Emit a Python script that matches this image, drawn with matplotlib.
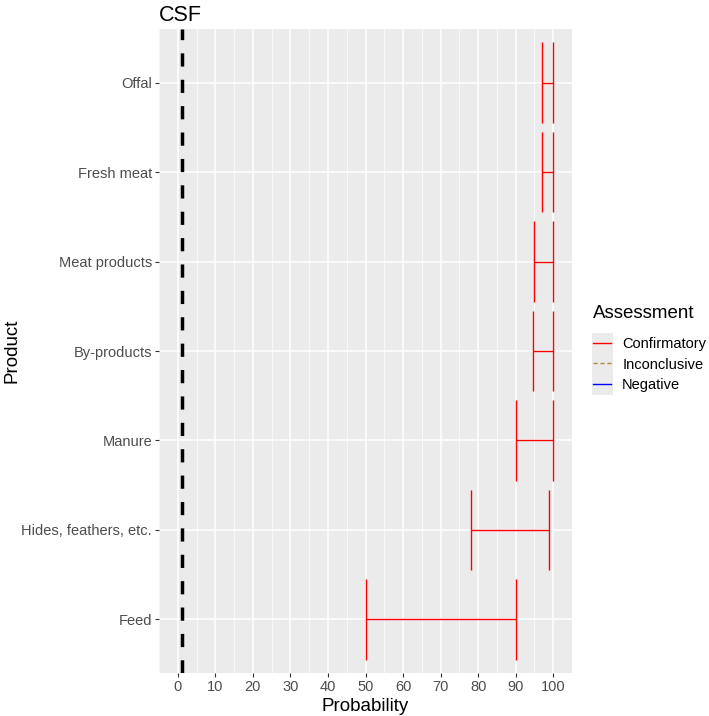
import numpy as np
import matplotlib.pyplot as plt
from matplotlib.lines import Line2D
from matplotlib.patches import Rectangle
from matplotlib.ticker import MultipleLocator

plt.rcParams['font.family'] = ['Liberation Sans', 'DejaVu Sans']
plt.rcParams['lines.scale_dashes'] = False

# data (bottom to top)
products = ["Feed", "Hides, feathers, etc.", "Manure", "By-products",
            "Meat products", "Fresh meat", "Offal"]
lower = [50, 78, 90, 94.5, 95, 97, 97]
upper = [90, 99, 100, 100, 100, 100, 100]
threshold = 1
xticks = list(range(0, 101, 10))

legend_labels = ["Confirmatory", "Inconclusive", "Negative"]
legend_colors = ["#FF0000", "#B08A3E", "#0000FF"]
legend_styles = ["-", (0, (3, 2)), "-"]

fig = plt.figure(figsize=(7.09, 7.16), dpi=100)
ax = fig.add_axes([159/709, 43/716, 413/709, 644/716])
ax.set_facecolor("#EBEBEB")

y = np.arange(1, len(products) + 1)
ax.hlines(y, lower, upper, color="#FF0000", lw=1.0, zorder=3)
ax.vlines(lower, y - 0.45, y + 0.45, color="#FF0000", lw=1.0, zorder=3)
ax.vlines(upper, y - 0.45, y + 0.45, color="#FF0000", lw=1.0, zorder=3)

ax.axvline(threshold, color="black", lw=2.5, linestyle=(0, (9.5, 9.5)), zorder=4)

ax.set_xlim(-5, 105)
ax.set_ylim(0.4, len(products) + 0.6)
ax.set_xticks(xticks)
ax.xaxis.set_minor_locator(MultipleLocator(5))
ax.set_yticks(y)
ax.set_yticklabels(products)

ax.grid(which="major", color="white", lw=1.1)
ax.grid(which="minor", axis="x", color="white", lw=0.5)
ax.set_axisbelow(True)
for s in ax.spines.values():
    s.set_visible(False)
ax.tick_params(which="major", length=3, width=0.8, color="#333333",
               labelsize=10.5, labelcolor="#4D4D4D", pad=2)
ax.tick_params(which="minor", length=0)

ax.set_xlabel("Probability", fontsize=13.5, labelpad=3)
ax.set_ylabel("Product", fontsize=13.5)
ax.yaxis.set_label_coords(-0.335, 0.5)
ax.set_title("CSF", fontsize=15.5, loc="left", pad=6)

# legend
fig.text(593/709, 1 - 313/716, "Assessment", fontsize=13.5, va="center", ha="left")
fig.patches.append(Rectangle((592/709, 1 - 395/716), 21/709, 62/716,
                             transform=fig.transFigure, facecolor="#EBEBEB",
                             edgecolor="none", zorder=0))
handles = [Line2D([], [], color=c, lw=1.0, linestyle=ls)
           for c, ls in zip(legend_colors, legend_styles)]
leg = fig.legend(handles, legend_labels, loc="upper left",
                 bbox_to_anchor=(593/709, 1 - 337/716), frameon=False,
                 fontsize=10.5, handlelength=1.25, handletextpad=0.75,
                 labelspacing=0.45, borderpad=0, borderaxespad=0)

fig.savefig("out.png", dpi=100)
